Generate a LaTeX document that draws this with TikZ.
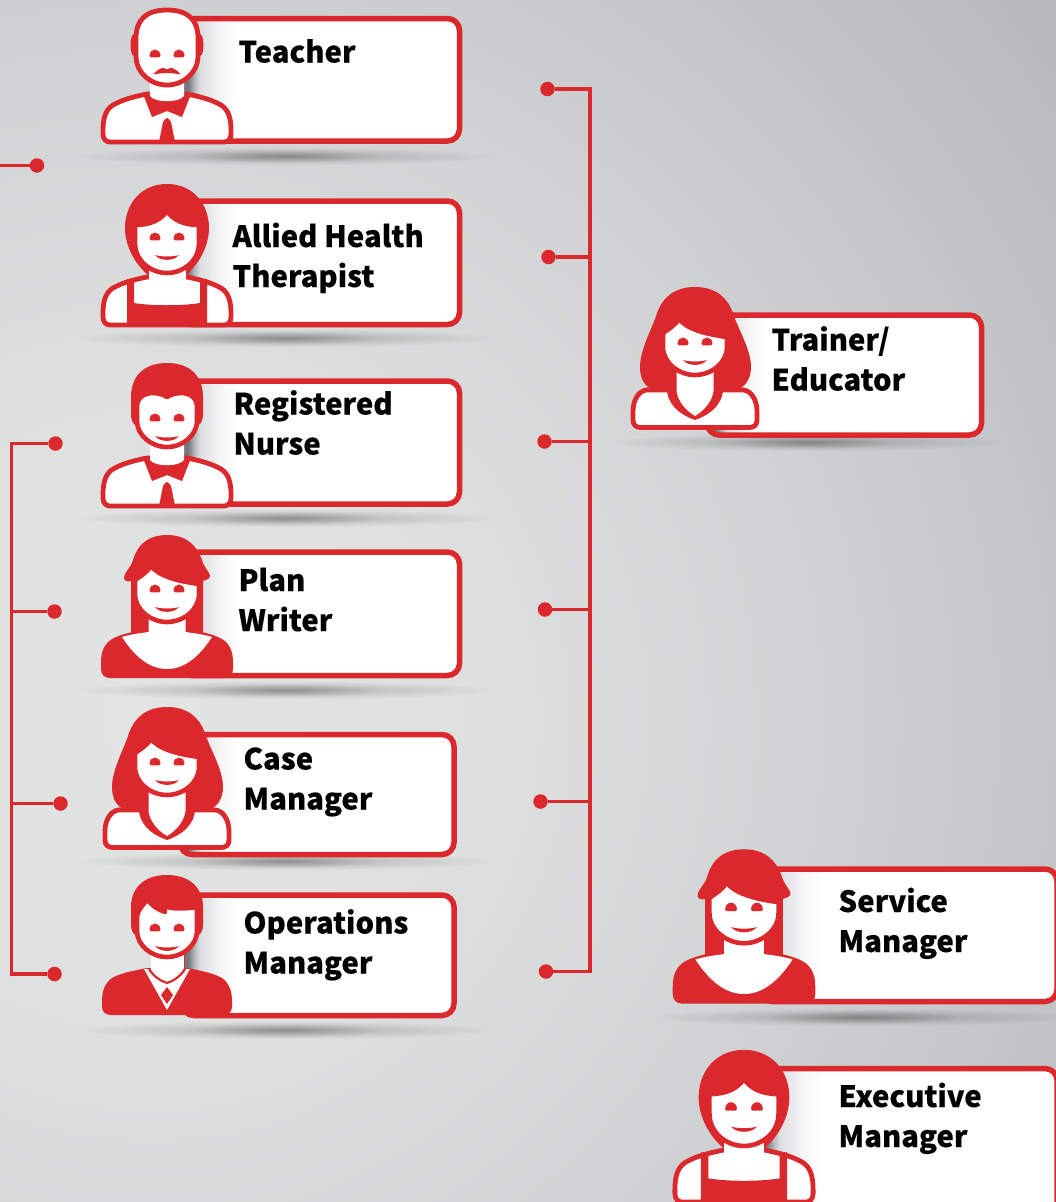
\documentclass[tikz,border=0pt]{standalone}
\usepackage{fontspec}
\usetikzlibrary{fadings}
\newfontfamily\lblfont{Noto Sans CJK SC}[BoldFeatures={FakeBold=0.25}]
\definecolor{rd}{HTML}{DA282D}
\definecolor{bgA}{HTML}{E2E3E3}
\definecolor{bgB}{HTML}{DFE0E0}
\definecolor{bgC}{HTML}{D2D3D4}
\definecolor{bgD}{HTML}{B8BABC}
\definecolor{gA}{HTML}{75777A}
\definecolor{gB}{HTML}{BCBDC0}
\definecolor{gC}{HTML}{DCDEE0}
\definecolor{gD}{HTML}{F5F5F6}
\pgfdeclareradialshading{bgrad}{\pgfpoint{0bp}{0bp}}{color(0bp)=(bgA);color(6.25bp)=(bgB);color(13.5bp)=(bgC);color(23.3bp)=(bgD);color(50bp)=(bgD)}
\pgfdeclarehorizontalshading{cardgrad}{100bp}{color(0bp)=(gA);color(39.6bp)=(gA);color(44.4bp)=(gB);color(47.9bp)=(gC);color(61.8bp)=(gD);color(75bp)=(white);color(100bp)=(white)}
\tikzfading[name=shfade, inner color=transparent!78, outer color=transparent!100]
\tikzfading[name=shfadeb, inner color=transparent!82, outer color=transparent!100]
\tikzset{
  lbl/.style={inner sep=0pt,outer sep=0pt,anchor=base west,font=\lblfont\bfseries\fontsize{29.3}{40}\selectfont,align=left,text=black},
  wire/.style={draw=rd,line width=3.9pt},
  dotn/.style={circle,fill=rd,draw=none,minimum size=14.5pt,inner sep=0pt,outer sep=0pt},
  ol/.style={draw=rd,line width=4.8pt,fill=white,line join=round},
  ring/.style={fill=white,draw=rd,line width=4.6pt,line join=round},
}
% body outlines
\newcommand{\BodyMan}{(-20,41) .. controls (-35,44) and (-45,47) .. (-54,52) .. controls (-62,57) and (-64,66) .. (-64,78) -- (-64,81) .. controls (-64,86) and (-61,89) .. (-57,89) -- (57,89) .. controls (61,89) and (64,86) .. (64,81) -- (64,78) .. controls (64,66) and (62,57) .. (54,52) .. controls (45,47) and (35,44) .. (20,41) -- cycle}
\newcommand{\BodySolid}{(-20,41) .. controls (-35,44) and (-46,46) .. (-55,51) .. controls (-63,56) and (-66,64) .. (-66,74) -- (-66,81) .. controls (-66,87) and (-62,90) .. (-57,90) -- (57,90) .. controls (62,90) and (66,87) .. (66,81) -- (66,74) .. controls (66,64) and (63,56) .. (55,51) .. controls (46,46) and (35,44) .. (20,41) -- cycle}
\newcommand{\BodyRound}{(-44,49) .. controls (-55,47) and (-62,58) .. (-62,70) -- (-62,79) .. controls (-62,84) and (-59,86.5) .. (-54,86.5) -- (54,86.5) .. controls (59,86.5) and (62,84) .. (62,79) -- (62,70) .. controls (62,58) and (55,47) .. (44,49) -- cycle}
% faces
\newcommand{\OneEye}{(-5.5,3) .. controls (-5.5,-1) and (-3,-3.5) .. (0,-3.5) .. controls (3,-3.5) and (5.5,-1) .. (5.5,3) .. controls (5.5,4) and (5,4.3) .. (4,4.3) -- (-4,4.3) .. controls (-5,4.3) and (-5.5,4) .. (-5.5,3) -- cycle}
\newcommand{\EyesSmile}{%
  \fill[rd,shift={(-12,0)}] \OneEye;
  \fill[rd,shift={(12,0)}] \OneEye;
}
\newcommand{\Smile}{\fill[rd] (-12,19) .. controls (-6,21) and (6,21) .. (12,19) .. controls (7,25.5) and (-7,25.5) .. (-12,19) -- cycle;}
\newcommand{\Moustache}{\fill[rd] (-14,21.5) .. controls (-10,17) and (-6,15) .. (-4,15) .. controls (-2,15) and (-1,16) .. (0,16.5) .. controls (1,16) and (2,15) .. (4,15) .. controls (6,15) and (10,17) .. (14,21.5) .. controls (8,20.5) and (4,20) .. (0,20) .. controls (-4,20) and (-8,20.5) .. (-14,21.5) -- cycle;}
\newcommand{\FaceFringe}{\draw[ring] (-32,-8) .. controls (-26,-12) and (-20,-16) .. (-16,-22) .. controls (-8,-12) and (10,-7) .. (32,-4) -- (32,6) .. controls (32,22) and (16,34) .. (0,34) .. controls (-16,34) and (-32,22) .. (-32,6) -- cycle;}
\newcommand{\ManCollar}{%
  \fill[rd] (-24,41) -- (-15,64) -- (0,58) -- (15,64) -- (24,41) -- cycle;
  \fill[white] (-17,28) -- (-17,43) .. controls (-12,50) and (12,50) .. (17,43) -- (17,28) -- cycle;
  \fill[rd] (-8,89) -- (-4,69) .. controls (-3,67) and (-1,65) .. (0,65) .. controls (1,65) and (3,67) .. (4,69) -- (8,89) -- cycle;
}
% people
\newcommand{\PTeacher}{%
  \draw[ol] \BodyMan;
  \ManCollar
  \fill[rd] (-33,-8) ellipse (3.5 and 11);
  \fill[rd] (33,-8) ellipse (3.5 and 11);
  \draw[ol] (0,-43) .. controls (-22,-43) and (-31,-32) .. (-31,-15) -- (-31,3) .. controls (-31,20) and (-16,32) .. (0,32) .. controls (16,32) and (31,20) .. (31,3) -- (31,-15) .. controls (31,-32) and (22,-43) .. (0,-43) -- cycle;
  \EyesSmile \Moustache
}
\newcommand{\PBob}{%
  \draw[ol] \BodyMan;
  \fill[rd] (-40,89) -- (-40,43) -- (-33,43) -- (-33,67) .. controls (-15,70) and (15,70) .. (33,67) -- (33,43) -- (40,43) -- (40,89) -- cycle;
  \fill[rd] (0,-52) .. controls (-26,-52) and (-42,-32) .. (-42,-8) .. controls (-42,10) and (-32,28) .. (-19,39) -- (19,39) .. controls (32,28) and (42,10) .. (42,-8) .. controls (42,-32) and (26,-52) .. (0,-52) -- cycle;
  \fill[white] (-18.5,30) rectangle (18.5,46);
  \draw[ring] (-32,-11) .. controls (-17,-11) and (-6,-16) .. (0,-25) .. controls (6,-16) and (17,-11) .. (32,-11) -- (32,7) .. controls (32,25) and (16,37) .. (0,37) .. controls (-16,37) and (-32,25) .. (-32,7) -- cycle;
  \EyesSmile \Smile
}
\newcommand{\PNurse}{%
  \draw[ol] \BodyMan;
  \ManCollar
  \fill[rd] (0,-54) .. controls (-24,-54) and (-36,-40) .. (-36,-20) -- (-36,-2) .. controls (-36,3) and (-34,6) .. (-32,8) -- (32,8) .. controls (34,6) and (36,3) .. (36,-2) -- (36,-20) .. controls (36,-40) and (24,-54) .. (0,-54) -- cycle;
  \draw[ring] (-30,-10) .. controls (-30,-20) and (-22,-24) .. (-14,-24) .. controls (-8,-24) and (-3,-22) .. (0,-20) .. controls (3,-22) and (8,-24) .. (14,-24) .. controls (22,-24) and (30,-20) .. (30,-10) -- (30,4) .. controls (30,18) and (16,30) .. (0,30) .. controls (-16,30) and (-30,18) .. (-30,4) -- cycle;
  \EyesSmile \Smile
}
\newcommand{\PPlan}{%
  \fill[rd] \BodySolid;
  \fill[rd] (0,-53) .. controls (-20,-53) and (-30,-42) .. (-34,-28) .. controls (-36,-20) and (-43,-16) .. (-43,-10) .. controls (-43,-7) and (-39,-6) .. (-36,-7) -- (-36,46) -- (36,46) -- (36,-7) .. controls (39,-8) and (43,-9) .. (43,-12) .. controls (43,-16) and (37,-20) .. (35,-28) .. controls (30,-42) and (20,-53) .. (0,-53) -- cycle;
  \fill[white] (-45,49) .. controls (-35,46) and (-25,45) .. (-18.5,44) -- (-18.5,28) -- (18.5,28) -- (18.5,44) .. controls (25,45) and (35,46) .. (45,49) .. controls (30,72) and (15,81) .. (0,81) .. controls (-15,81) and (-30,72) .. (-45,49) -- cycle;
  \FaceFringe
  \EyesSmile \Smile
}
\newcommand{\PCase}{%
  \draw[ol] \BodyRound;
  \fill[rd] (0,-54) .. controls (-22,-54) and (-33,-42) .. (-38,-28) .. controls (-42,-14) and (-55,8) .. (-55,26) .. controls (-55,38) and (-50,47) .. (-40,49) -- (-28,50) .. controls (-27,60) and (-20,72) .. (0,79) .. controls (20,72) and (27,60) .. (28,50) -- (40,49) .. controls (50,47) and (56,38) .. (56,26) .. controls (56,8) and (42,-14) .. (38,-28) .. controls (33,-42) and (22,-54) .. (0,-54) -- cycle;
  \fill[white] (-18.5,28) -- (-18.5,50) .. controls (-17,60) and (-10,69) .. (0,75) .. controls (10,69) and (17,60) .. (18.5,50) -- (18.5,28) -- cycle;
  \FaceFringe
  \EyesSmile \Smile
}
\newcommand{\POps}{%
  \fill[rd] (-20,41) .. controls (-35,44) and (-46,46) .. (-55,51) .. controls (-62,56) and (-65,64) .. (-65,74) -- (-65,80) .. controls (-65,85) and (-61,88) .. (-56,88) -- (56,88) .. controls (61,88) and (65,85) .. (65,80) -- (65,74) .. controls (65,64) and (62,56) .. (55,51) .. controls (46,46) and (35,44) .. (20,41) -- cycle;
  \fill[white] (-23,42) -- (0,83) -- (23,42) -- cycle;
  \fill[white] (-16.5,28) rectangle (16.5,46);
  \draw[rd,line width=2.2pt] (-18,42) .. controls (-13,50) and (-6,54) .. (0,56) .. controls (6,54) and (13,50) .. (18,42);
  \fill[rd] (0,60) -- (-6,68) -- (0,77) -- (6,68) -- cycle;
  \fill[rd] (0,-52) .. controls (-24,-52) and (-36,-38) .. (-36,-20) -- (-36,-2) .. controls (-36,3) and (-34,6) .. (-32,8) -- (32,8) .. controls (34,6) and (36,3) .. (36,-2) -- (36,-20) .. controls (36,-38) and (24,-52) .. (0,-52) -- cycle;
  \draw[ring] (-30,-10) .. controls (-29,-18) and (-24,-22) .. (-19,-28) .. controls (-15,-20) and (-9,-18) .. (-2,-15) -- (-4,-21) .. controls (5,-18) and (18,-18) .. (30,-20) -- (30,4) .. controls (30,18) and (16,30) .. (0,30) .. controls (-16,30) and (-30,18) .. (-30,4) -- cycle;
  \EyesSmile \Smile
}
% card: left, top, right, bottom, avatar x, avatar scale
\newcommand{\Card}[6]{%
  \begin{scope}
    \path[clip,rounded corners=12pt] (#1,#2) rectangle (#3,#4);
    \fill[white] (#1,#2) rectangle (#3,#4);
    \shade[shading=cardgrad] (#5,#2) rectangle ({#5+72*#6},#4);
  \end{scope}
  \draw[rd,line width=5.5pt,rounded corners=12pt] (#1,#2) rectangle (#3,#4);
}
\newcommand{\Shadow}[3]{%
  \fill[black,path fading=shfade] (#1,#2) ellipse (#3 and 9);
  \fill[black,path fading=shfadeb] (#1,#2) ellipse ({0.45*#3} and 7);
}
\begin{document}
\begin{tikzpicture}[x=1pt,y=-1pt]
\useasboundingbox (0,0) rectangle (1056,1202);
\clip (0,0) rectangle (1056,1202);
\shade[shading=bgrad] (150,720) circle (1200);
% floor shadows
\Shadow{285}{156}{210}
\Shadow{285}{338}{210}
\Shadow{285}{518}{210}
\Shadow{285}{690}{210}
\Shadow{285}{861}{210}
\Shadow{285}{1030}{210}
\Shadow{807}{442}{200}
\Shadow{863}{1017}{215}
% connectors
\node[dotn] (la) at (37,165.5) {};
\coordinate (lo) at (0,165.5);
\draw[wire] (lo) -- (la);
\node[dotn] (l1) at (55.5,443.5) {};
\node[dotn] (l2) at (54.5,611.5) {};
\node[dotn] (l3) at (60.5,803.5) {};
\node[dotn] (l4) at (54.5,974) {};
\coordinate (lt) at (11.5,443.5);
\coordinate (lb) at (11.5,974);
\draw[wire,line join=miter] (l1) -- (lt) -- (lb) -- (l4);
\draw[wire] (l2) -- (l2 -| lt);
\draw[wire] (l3) -- (l3 -| lt);
\node[dotn] (r1) at (547.5,89) {};
\node[dotn] (r2) at (548.5,257) {};
\node[dotn] (r3) at (544.5,441.5) {};
\node[dotn] (r4) at (545,609.5) {};
\node[dotn] (r5) at (540.5,801.5) {};
\node[dotn] (r6) at (546,971.5) {};
\coordinate (rt) at (590,89);
\coordinate (rb) at (590,971.5);
\draw[wire,line join=miter] (r1) -- (rt) -- (rb) -- (r6);
\draw[wire] (r2) -- (r2 -| rt);
\draw[wire] (r3) -- (r3 -| rt);
\draw[wire] (r4) -- (r4 -| rt);
\draw[wire] (r5) -- (r5 -| rt);
% cards
\Card{180}{18.5}{459.5}{141}{167}{1}
\Card{180}{201}{459.5}{324.5}{167}{1}
\Card{180}{381}{459.5}{504}{167}{1}
\Card{180}{552}{459.5}{675.5}{167}{1}
\Card{180}{734.5}{454}{854.5}{167}{1}
\Card{182}{895}{454}{1015.5}{167}{1}
\Card{707}{315}{981.5}{435}{695}{1}
\Card{760}{869}{1057}{1001.5}{744}{1.08}
\Card{760}{1068.5}{1057}{1220}{744}{1.08}
% avatars
\begin{scope}[shift={(167,53)}]\PTeacher\end{scope}
\begin{scope}[shift={(167,236)}]\PBob\end{scope}
\begin{scope}[shift={(167,417)}]\PNurse\end{scope}
\begin{scope}[shift={(167,588)}]\PPlan\end{scope}
\begin{scope}[shift={(167,761)}]\PCase\end{scope}
\begin{scope}[shift={(167,927)}]\POps\end{scope}
\begin{scope}[shift={(695,341)}]\PCase\end{scope}
\begin{scope}[shift={(744,906.5)},scale=1.08]\PPlan\end{scope}
\begin{scope}[shift={(744,1106)},scale=1.08]\PBob\end{scope}
% labels
\node[lbl] (t1) at (238.5,62.5) {Teacher};
\node[lbl] (t2) at (232.5,287) {Allied Health\\Therapist};
\node[lbl] (t3) at (233.5,454.5) {Registered\\Nurse};
\node[lbl] (t4) at (238.5,631) {Plan\\Writer};
\node[lbl] (t5) at (243.5,809.5) {Case\\Manager};
\node[lbl] (t6) at (243.5,973.5) {Operations\\Manager};
\node[lbl] (t7) at (771.5,390.5) {Trainer/\\Educator};
\node[lbl] (t8) at (838.5,952) {Service\\Manager};
\node[lbl] (t9) at (838.5,1147) {Executive\\Manager};
\end{tikzpicture}
\end{document}
